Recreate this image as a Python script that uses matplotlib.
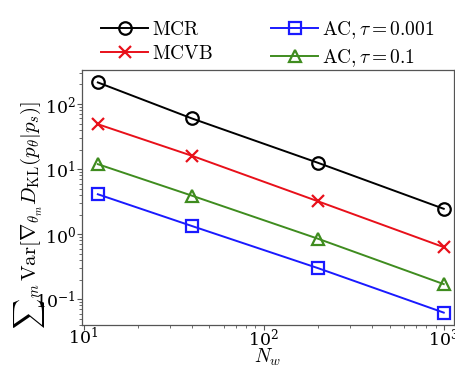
import matplotlib
matplotlib.use("Agg")
import matplotlib.pyplot as plt

plt.rcParams["mathtext.fontset"] = "cm"
plt.rcParams["font.family"] = "serif"
plt.rcParams["font.serif"] = ["DejaVu Serif"]

# Number of walkers
n_w = [12, 40, 200, 1000]

# Summed gradient variance for each estimator
var_mcr = [215, 60, 12.5, 2.45]
var_mcvb = [49, 16, 3.2, 0.63]
var_ac_0001 = [4.1, 1.33, 0.30, 0.062]
var_ac_01 = [11.9, 3.9, 0.85, 0.17]

labels = [r"$\mathrm{MCR}$", r"$\mathrm{MCVB}$",
          r"$\mathrm{AC},\tau=0.001$", r"$\mathrm{AC},\tau=0.1$"]

fig = plt.figure(figsize=(4.55, 3.7), dpi=100)
ax = fig.add_axes([82 / 455, 1 - 325 / 370, (454 - 82) / 455, (325 - 70) / 370])

kw = dict(lw=1.4, ms=9, mew=1.6, fillstyle="none")
ax.plot(n_w, var_mcr, "-o", color="black", label=labels[0], **kw)
ax.plot(n_w, var_mcvb, "-x", color="#e8101a", label=labels[1], **kw)
ax.plot(n_w, var_ac_0001, "-s", color="#1a1aff", label=labels[2], **kw)
ax.plot(n_w, var_ac_01, "-^", color="#3f8c1f", label=labels[3], **kw)

ax.set_xscale("log")
ax.set_yscale("log")
ax.set_xlim(9.8, 1140)
ax.set_ylim(0.04, 334)

for s in ax.spines.values():
    s.set_color("#555555")
    s.set_linewidth(0.9)
ax.tick_params(which="major", direction="out", length=3.5, width=0.8,
               color="#555555", labelsize=12.5, pad=1)
ax.tick_params(axis="x", which="major", pad=-2)
ax.tick_params(which="minor", direction="out", length=2, width=0.6,
               color="#555555")

ax.set_xlabel(r"$N_w$", fontsize=14, labelpad=-1.5)
ax.set_ylabel(r"${\sum}_m\,\mathrm{Var}[\nabla_{\theta_m} D_{\mathrm{KL}}(p_\theta|p_s)]$",
              fontsize=15)
ax.yaxis.set_label_coords(-0.095, 0.43)

ax.legend(ncol=2, loc="lower center", bbox_to_anchor=(0.5, 0.975),
          frameon=False, fontsize=14, handlelength=2.4, handletextpad=0.2,
          columnspacing=3.0, labelspacing=0.3, borderaxespad=0.0)

fig.savefig("out.png", dpi=100)
